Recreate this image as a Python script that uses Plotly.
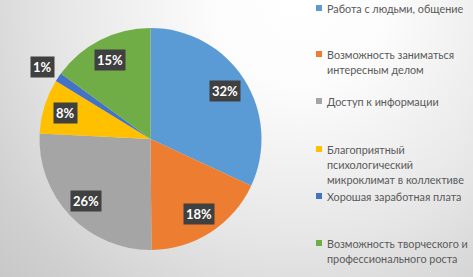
import math
import plotly.graph_objects as go

# ---- data ----
categories = [
    "Работа с людьми, общение",
    "Возможность заниматься интересным делом",
    "Доступ к информации",
    "Благоприятный психологический микроклимат в коллективе",
    "Хорошая заработная плата",
    "Возможность творческого и профессионального роста",
]
legend_lines = [
    ["Работа с людьми, общение"],
    ["Возможность заниматься", "интересным делом"],
    ["Доступ к информации"],
    ["Благоприятный", "психологический", "микроклимат в коллективе"],
    ["Хорошая заработная плата"],
    ["Возможность творческого и", "профессионального роста"],
]
values = [32, 18, 26, 8, 1.3, 15]
colors = ["#5B9BD5", "#ED7D31", "#A5A5A5", "#FFC000", "#4472C4", "#70AD47"]

# ---- layout constants (pixels) ----
W, H = 473, 277
PIE_CX, PIE_CY, PIE_R = 150.5, 139, 111
LEG_SQ_X, LEG_TX_X = 316, 325
LEG_Y = [8, 54, 101, 149, 196, 243]
LINE_STEP = 15.3
FONT = "Lato, Open Sans, sans-serif"

fig = go.Figure()

# background with radial gradient (rectangle centred at the gradient centre)
GCX, GCY, GR = 300, 0, 440
fig.add_trace(go.Scatter(
    x=[GCX - GR, GCX + GR, GCX + GR, GCX - GR, GCX - GR],
    y=[GCY - GR, GCY - GR, GCY + GR, GCY + GR, GCY - GR],
    mode="lines", line=dict(width=0), fill="toself",
    fillgradient=dict(type="radial",
                      colorscale=[[0, "#ffffff"], [0.2, "#fcfcfc"], [0.55, "#e6e6e6"], [0.8, "#d0d0d0"], [1, "#c4c4c4"]]),
    hoverinfo="skip", showlegend=False,
))

fig.add_trace(go.Pie(
    labels=categories, values=values, sort=False, direction="clockwise", rotation=0,
    marker=dict(colors=colors, line=dict(width=0)),
    textinfo="none", hoverinfo="label+percent", showlegend=False,
    domain=dict(x=[(PIE_CX - PIE_R) / W, (PIE_CX + PIE_R) / W],
                y=[1 - (PIE_CY + PIE_R) / H, 1 - (PIE_CY - PIE_R) / H]),
))

# data labels
total = sum(values)
cum = 0
annotations = []
for v in values:
    mid = (cum + v / 2) / total * 2 * math.pi
    cum += v
    frac = v / total
    r = PIE_R * (1.17 if frac < 0.03 else 0.8)
    annotations.append(dict(
        x=PIE_CX + r * math.sin(mid), y=PIE_CY - r * math.cos(mid),
        xref="x", yref="y", text=f"<b>{frac * 100:.0f}%</b>", showarrow=False,
        bgcolor="#404040", borderpad=2,
        font=dict(family=FONT, size=13, color="#ffffff"),
    ))

# legend
shapes = []
for i, lines in enumerate(legend_lines):
    y0 = LEG_Y[i]
    shapes.append(dict(type="rect", xref="x", yref="y",
                       x0=LEG_SQ_X, x1=LEG_SQ_X + 6, y0=y0 - 3, y1=y0 + 3,
                       fillcolor=colors[i], line=dict(width=0)))
    for j, t in enumerate(lines):
        annotations.append(dict(
            x=LEG_TX_X, y=y0 + j * LINE_STEP, xref="x", yref="y",
            text=t, showarrow=False, xanchor="left", yanchor="middle",
            font=dict(family=FONT, size=10.8, color="#595959"),
        ))

fig.update_layout(
    width=W, height=H, margin=dict(l=0, r=0, t=0, b=0),
    paper_bgcolor="#ffffff", plot_bgcolor="rgba(0,0,0,0)",
    xaxis=dict(range=[0, W], visible=False, domain=[0, 1], fixedrange=True),
    yaxis=dict(range=[H, 0], visible=False, domain=[0, 1], fixedrange=True),
    annotations=annotations, shapes=shapes, showlegend=False,
)

fig.write_html("out.html", config={"displayModeBar": False},
               post_script="document.body.style.margin='0';")
